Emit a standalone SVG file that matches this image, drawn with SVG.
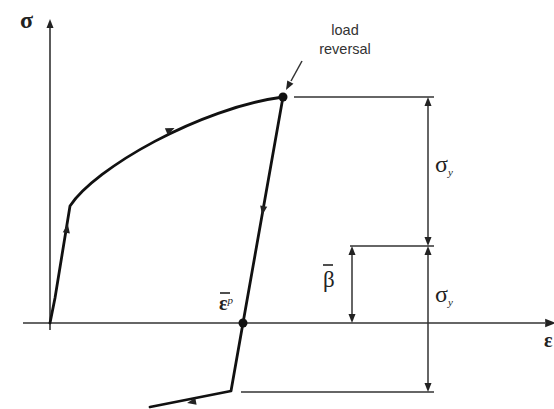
<svg xmlns="http://www.w3.org/2000/svg" width="554" height="409" viewBox="0 0 554 409">
<defs>
<style>
.ax{stroke:#333;stroke-width:1.6;fill:none}
.ref{stroke:#333;stroke-width:1.5;fill:none}
.crv{stroke:#111;stroke-width:2.8;fill:none;stroke-linejoin:round;stroke-linecap:round}
.sym{font-family:"Liberation Serif","DejaVu Serif",serif;fill:#222}
.bar{stroke:#222;stroke-width:1.6}
.lbl{font-family:"Liberation Sans",Arial,sans-serif;font-size:14.5px;fill:#333;text-anchor:middle}
.ah{fill:#222}
</style>
<path id="tri" d="M5,0 L-4,-3.6 L-4,3.6 Z"/>
<path id="dim" d="M0,0 L-3.5,9 L3.5,9 Z"/>
</defs>
<rect width="554" height="409" fill="#fff"/>
<g id="axes">
<line class="ax" x1="50" y1="330" x2="50" y2="26"/>
<use href="#dim" class="ah" x="50" y="19"/>
<line class="ax" x1="23" y1="323" x2="545" y2="323"/>
<use href="#tri" class="ah" transform="translate(550,323) scale(1.2)"/>
</g>
<g id="curve">
<path class="crv" d="M50,323 L55,298 L70,206 C95,168 200,108 283,97 L243,323 L231,391 L150,407"/>
<use href="#tri" class="ah" transform="translate(67,229) rotate(-80.4)"/>
<use href="#tri" class="ah" transform="translate(170,130) rotate(-23.7)"/>
<use href="#tri" class="ah" transform="translate(263,210) rotate(100)"/>
<use href="#tri" class="ah" transform="translate(192,402) rotate(169.4)"/>
<circle cx="283" cy="97" r="4.5" fill="#111"/>
<circle cx="243" cy="323" r="4.5" fill="#111"/>
</g>
<g id="references">
<line class="ref" x1="294" y1="97" x2="434" y2="97"/>
<line class="ref" x1="350" y1="246" x2="434" y2="246"/>
<line class="ref" x1="241" y1="392" x2="434" y2="392"/>
</g>
<g id="dimensions">
<line class="ref" x1="428" y1="100" x2="428" y2="243"/>
<use href="#dim" class="ah" x="428" y="97"/>
<use href="#dim" class="ah" transform="translate(428,246) rotate(180)"/>
<line class="ref" x1="428" y1="249" x2="428" y2="389"/>
<use href="#dim" class="ah" x="428" y="246"/>
<use href="#dim" class="ah" transform="translate(428,392) rotate(180)"/>
<line class="ref" x1="352" y1="249" x2="352" y2="320"/>
<use href="#dim" class="ah" x="352" y="246"/>
<use href="#dim" class="ah" transform="translate(352,323) rotate(180)"/>
</g>
<g id="leader">
<line class="ref" x1="302" y1="61" x2="291" y2="81" stroke-width="1.8"/>
<use href="#dim" class="ah" transform="translate(286,90) rotate(208.9)"/>
</g>
<g id="labels">
<text class="sym" x="20" y="28" font-size="24" font-weight="bold">σ</text>
<text class="sym" x="544" y="347" font-size="20" font-weight="bold">ε</text>
<text class="sym" x="435" y="172" font-size="24">σ<tspan font-size="11" dy="4" font-style="italic">y</tspan></text>
<text class="sym" x="435" y="302" font-size="24">σ<tspan font-size="11" dy="4" font-style="italic">y</tspan></text>
<text class="sym" x="323" y="287" font-size="23">β</text>
<line class="bar" x1="323" y1="265" x2="333" y2="265"/>
<text class="sym" x="219" y="310" font-size="20" font-weight="bold">ε<tspan font-size="11" dy="-6" font-style="italic" font-weight="normal">p</tspan></text>
<line class="bar" x1="220" y1="293" x2="230" y2="293"/>
<text class="lbl" x="345" y="35">load</text>
<text class="lbl" x="345" y="54">reversal</text>
</g>
</svg>
